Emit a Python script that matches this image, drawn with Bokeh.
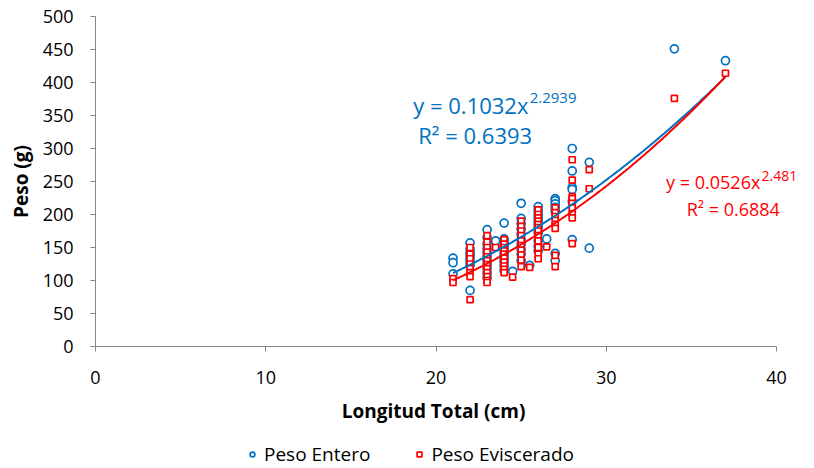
import numpy as np
from bokeh.plotting import figure
from bokeh.models import (Range1d, FixedTicker, Label, Legend, LegendItem)
from bokeh.embed import file_html
from bokeh.resources import INLINE

# ---- data ----
entero_x = ([21]*3 + [22]*8 + [23]*11 + [23.5] + [24]*11 + [24.5] + [25]*10 + [25.5]
            + [26]*11 + [26.5] + [27]*7 + [28]*6 + [29]*2 + [34] + [37])
entero_y = ([134, 127, 110]
            + [157, 148, 142, 138, 133, 128, 123, 85]
            + [177, 165, 155, 148, 142, 136, 130, 124, 118, 111, 104]
            + [160]
            + [187, 163, 158, 153, 148, 143, 138, 133, 128, 122, 115]
            + [114]
            + [217, 194, 186, 178, 170, 162, 155, 147, 140, 130]
            + [123]
            + [212, 206, 200, 195, 190, 185, 180, 172, 160, 152, 145]
            + [163]
            + [224, 221, 216, 211, 205, 141, 130]
            + [300, 266, 241, 238, 220, 162]
            + [279, 149]
            + [451]
            + [433])

evisc_x = ([21]*2 + [22]*8 + [23]*12 + [23.5] + [24]*10 + [24.5] + [25]*10 + [25.5]
           + [26]*12 + [26.5] + [27]*8 + [28]*9 + [29]*2 + [34] + [37])
evisc_y = ([103, 97]
           + [150, 140, 133, 125, 118, 112, 106, 71]
           + [168, 158, 150, 143, 136, 130, 124, 118, 112, 106, 100, 97]
           + [150]
           + [162, 155, 150, 145, 140, 134, 128, 122, 117, 112]
           + [105]
           + [190, 182, 175, 168, 160, 153, 146, 139, 131, 121]
           + [120]
           + [207, 200, 195, 190, 185, 180, 175, 168, 160, 150, 140, 133]
           + [151]
           + [210, 203, 197, 191, 185, 179, 138, 121]
           + [283, 252, 227, 224, 217, 210, 201, 195, 156]
           + [268, 239]
           + [376]
           + [414])

# power trendlines as shown on the chart
entero_a, entero_b = 0.1032, 2.2939
evisc_a, evisc_b = 0.0526, 2.481
trend_x0, trend_x1 = 21, 37

x_ticks = [0, 10, 20, 30, 40]
y_ticks = [0, 50, 100, 150, 200, 250, 300, 350, 400, 450, 500]

BLUE = "#0070C0"
RED = "#FF0000"
FONT = "Open Sans"

# the frame covers the whole canvas; the axes are pinned at 0 and limited with bounds
p = figure(width=814, height=468, output_backend="svg", toolbar_location=None,
           x_range=Range1d(-5.58, 42.23), y_range=Range1d(-184.8, 524.24),
           min_border=0)
p.outline_line_color = None
p.xgrid.visible = False
p.ygrid.visible = False

for ax in (p.xaxis[0], p.yaxis[0]):
    ax.axis_line_color = "#868686"
    ax.major_tick_line_color = "#868686"
    ax.minor_tick_line_color = None
    ax.major_tick_out = 5
    ax.major_tick_in = 0
    ax.major_label_text_font = FONT
    ax.major_label_text_font_size = "18px"
    ax.major_label_text_color = "#000000"
    ax.axis_label_text_font = FONT
    ax.axis_label_text_font_size = "19px"
    ax.axis_label_text_font_style = "bold"
    ax.axis_label_text_color = "#000000"

p.xaxis.bounds = (0, 40)
p.yaxis.bounds = (0, 500)
p.xaxis.fixed_location = 0
p.yaxis.fixed_location = 0
p.xaxis.ticker = FixedTicker(ticks=x_ticks)
p.yaxis.ticker = FixedTicker(ticks=y_ticks)
p.xaxis.axis_label = "Longitud Total  (cm)"
p.yaxis.axis_label = "Peso (g)"
p.xaxis.major_label_standoff = 19
p.yaxis.major_label_standoff = 17
p.xaxis.axis_label_standoff = 11
p.yaxis.axis_label_standoff = 6

r1 = p.scatter(entero_x, entero_y, marker="circle", size=8, line_color=BLUE,
               line_width=1.7, fill_color="white")
r2 = p.scatter(evisc_x, evisc_y, marker="square", size=6, line_color=RED,
               line_width=1.7, fill_color="white")

tx = np.linspace(trend_x0, trend_x1, 200)
p.line(tx, entero_a * tx ** entero_b, line_color=BLUE, line_width=2)
p.line(tx, evisc_a * tx ** evisc_b, line_color=RED, line_width=2)

def lab(x, y, text, color, size, align):
    p.add_layout(Label(x=x, y=y, text=text, text_color=color, text_font=FONT,
                       text_font_size=size, text_align=align, text_baseline="middle"))

lab(25.43, 366, "y = 0.1032x", BLUE, "22px", "right")
lab(25.5, 377, f"{entero_b}", BLUE, "15px", "left")
lab(22.3, 321, "R² = 0.6393", BLUE, "22px", "center")

lab(39.05, 249, "y = 0.0526x", RED, "18px", "right")
lab(39.12, 259, f"{evisc_b}", RED, "14px", "left")
lab(37.46, 208, "R² = 0.6884", RED, "18px", "center")

legend = Legend(items=[LegendItem(label="Peso Entero", renderers=[r1]),
                       LegendItem(label="Peso Eviscerado", renderers=[r2])],
                orientation="horizontal", location=(246, 1),
                border_line_color=None, background_fill_alpha=0,
                label_text_font=FONT, label_text_font_size="19px",
                label_text_color="#000000",
                glyph_width=12, glyph_height=12, label_standoff=6,
                spacing=43, padding=0, margin=0)
p.add_layout(legend, "center")

open("out.html", "w").write(file_html(p, INLINE))
